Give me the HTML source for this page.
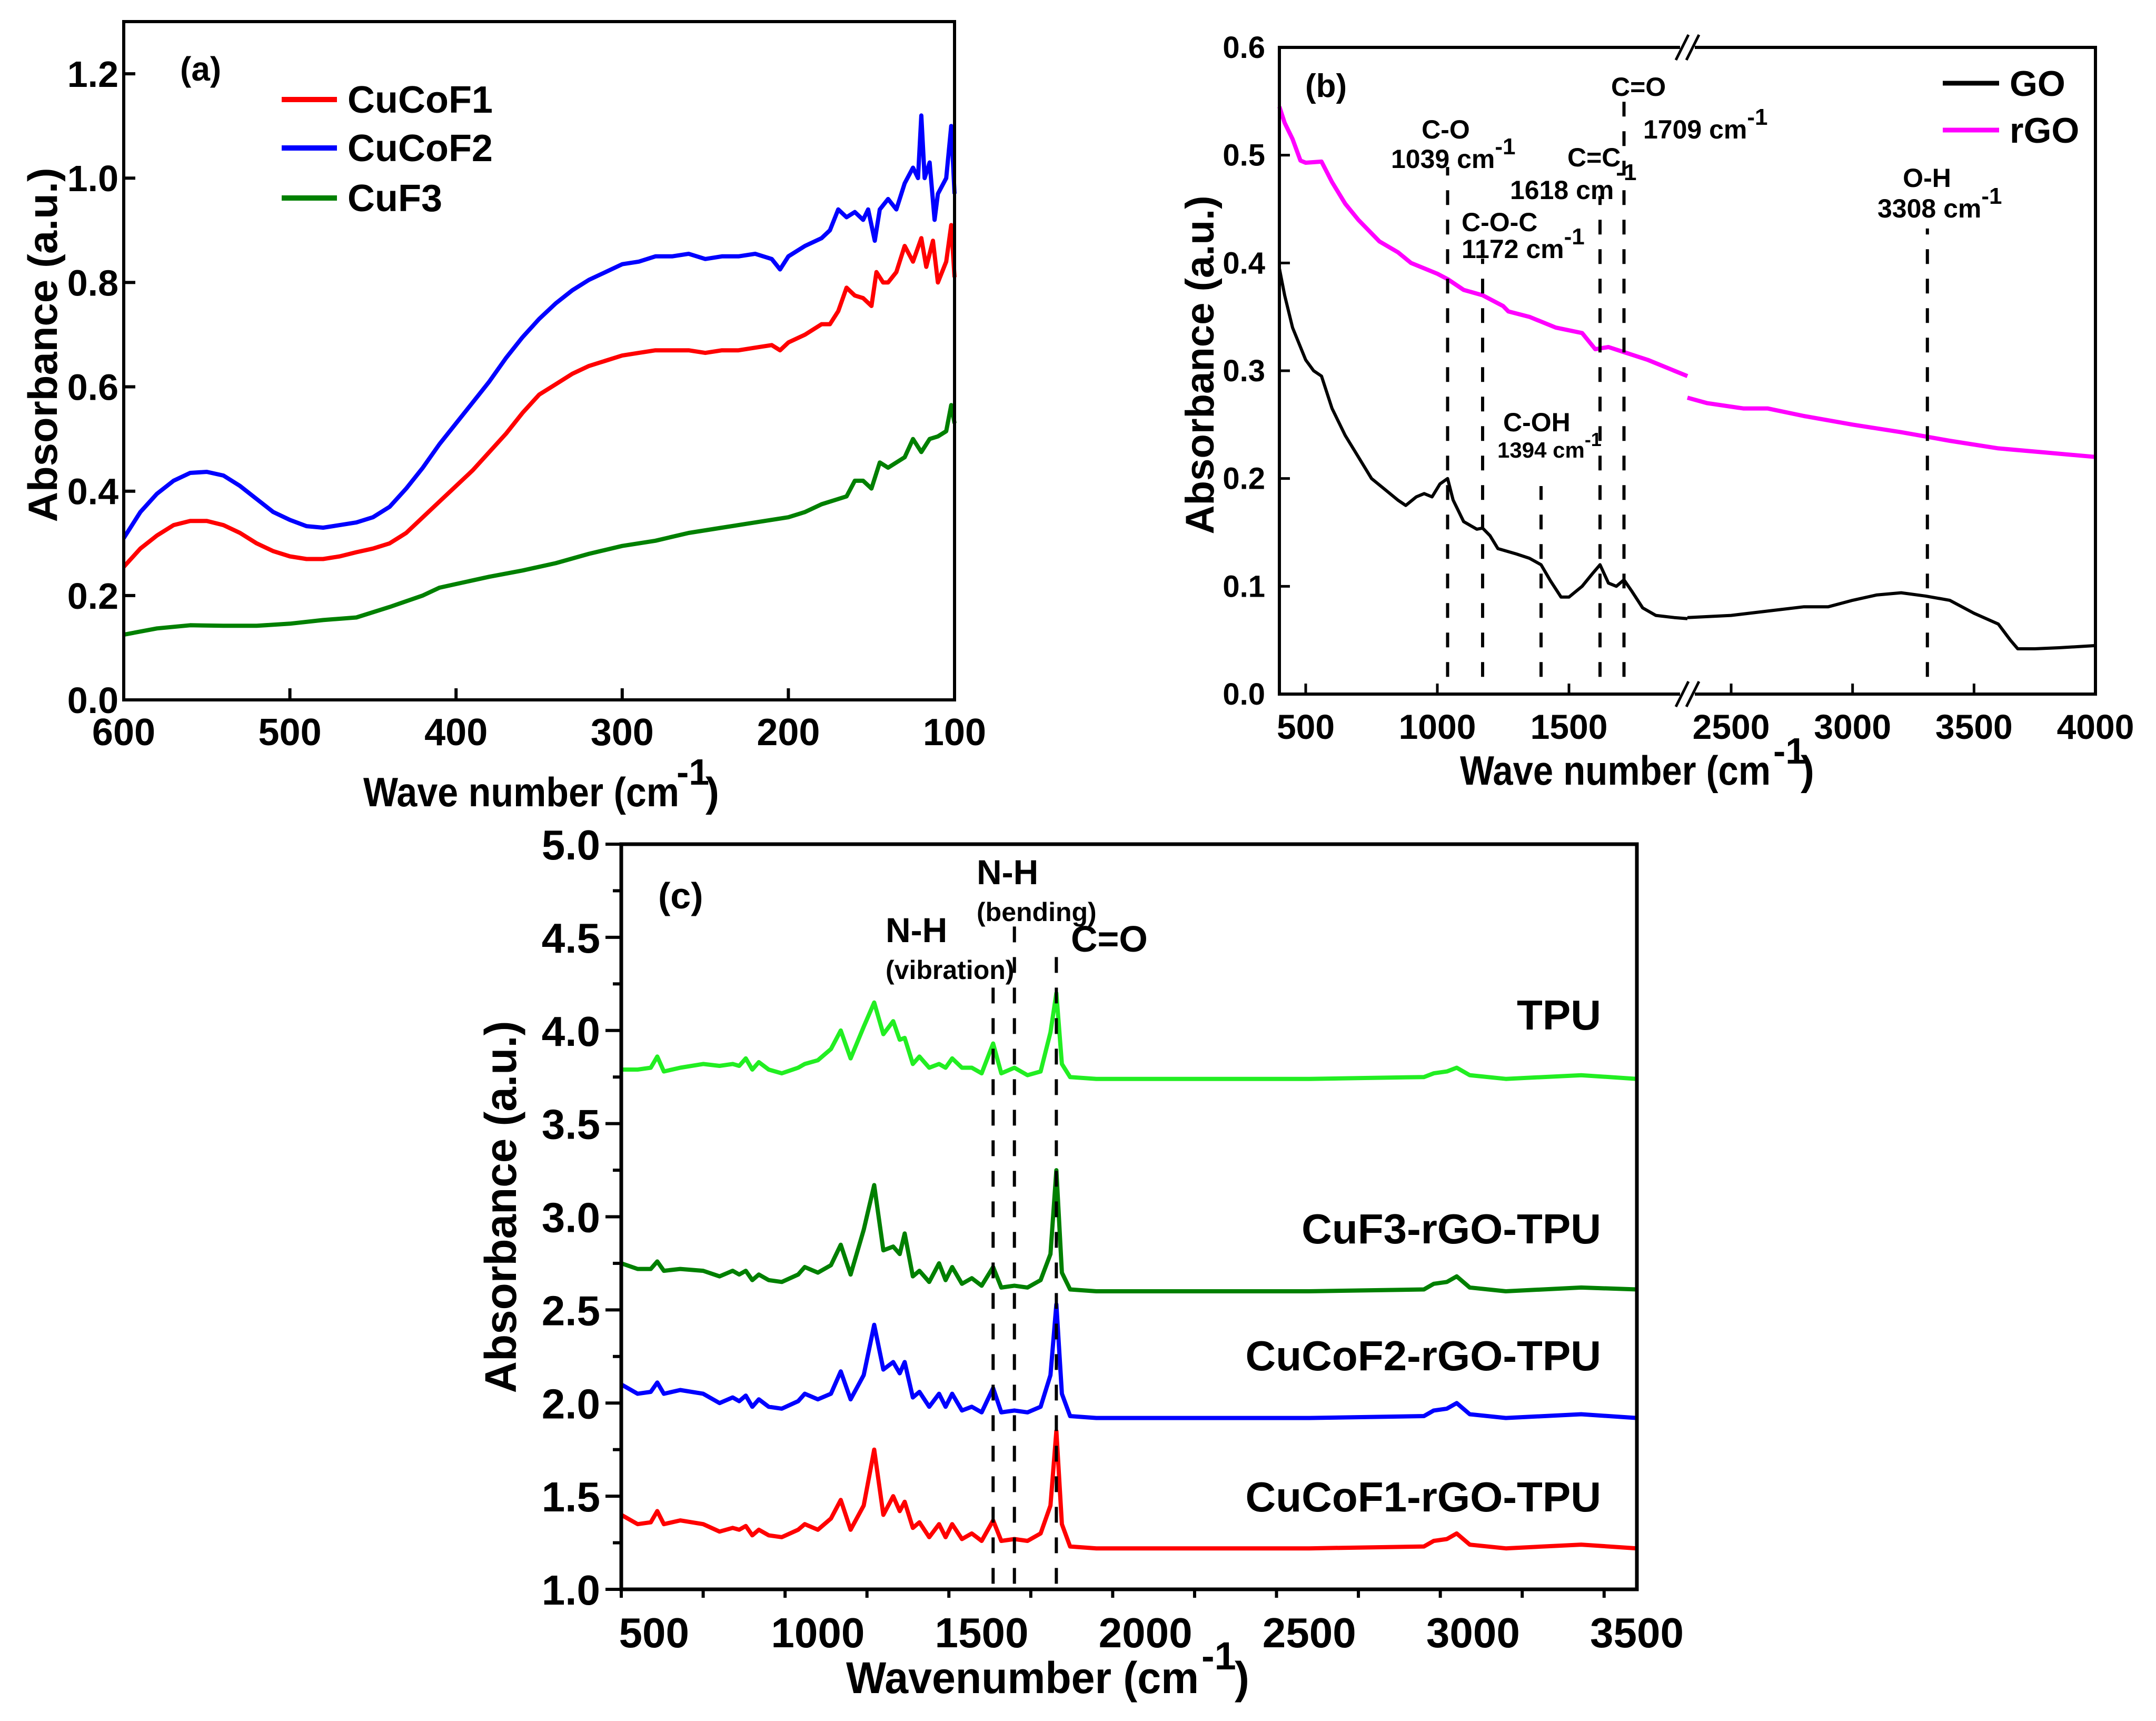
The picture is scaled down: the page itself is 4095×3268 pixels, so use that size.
<!DOCTYPE html>
<html><head><meta charset="utf-8">
<style>
html,body{margin:0;padding:0;background:#fff;}
svg{display:block;}
text{font-family:"Liberation Sans",sans-serif;font-weight:bold;fill:#000;}
</style></head>
<body>
<svg id="fig" width="4095" height="3268" viewBox="0 0 4095 3268" xmlns="http://www.w3.org/2000/svg">
<g id="pa"></g>
<g id="pb"></g>
<g id="pc"></g>
</svg>
<script>
// ---------- Panel (a) data ----------
const aX_F2=[600,590,580,570,560,550,540,530,520,510,500,490,480,470,460,450,440,430,420,410,400,390,380,370,360,350,340,330,320,310,300,290,280,270,260,250,240,230,220,210,205,200,190,180,175,170,165,160,155,152,148,145,140,135,130,125,122,120,118,115,112,110,105,102,100];
const aY_F2=[0.31,0.36,0.395,0.42,0.435,0.437,0.43,0.41,0.385,0.36,0.345,0.333,0.33,0.335,0.34,0.35,0.37,0.405,0.445,0.49,0.53,0.57,0.61,0.655,0.695,0.73,0.76,0.785,0.805,0.82,0.835,0.84,0.85,0.85,0.855,0.845,0.85,0.85,0.855,0.845,0.825,0.85,0.87,0.885,0.9,0.94,0.925,0.935,0.92,0.94,0.88,0.94,0.96,0.94,0.99,1.02,1.0,1.12,1.0,1.03,0.92,0.97,1.0,1.1,0.97];
const aX_F1=[600,590,580,570,560,550,540,530,520,510,500,490,480,470,460,450,440,430,420,410,400,390,380,370,360,350,340,330,320,310,300,290,280,270,260,250,240,230,220,210,205,200,190,180,175,170,165,160,155,150,147,143,140,135,130,125,120,117,113,110,105,102,100];
const aY_F1=[0.255,0.29,0.315,0.335,0.343,0.343,0.335,0.32,0.3,0.285,0.275,0.27,0.27,0.275,0.283,0.29,0.3,0.32,0.35,0.38,0.41,0.44,0.475,0.51,0.55,0.585,0.605,0.625,0.64,0.65,0.66,0.665,0.67,0.67,0.67,0.665,0.67,0.67,0.675,0.68,0.67,0.685,0.7,0.72,0.72,0.745,0.79,0.775,0.77,0.755,0.82,0.8,0.8,0.82,0.87,0.84,0.885,0.83,0.88,0.8,0.84,0.91,0.81];
const aX_F3=[600,580,560,540,520,500,480,460,440,420,410,400,380,360,340,320,300,280,260,240,220,200,190,180,170,165,160,155,150,145,140,130,125,120,115,110,105,102,100];
const aY_F3=[0.125,0.137,0.143,0.142,0.142,0.146,0.153,0.158,0.178,0.2,0.215,0.222,0.236,0.248,0.262,0.28,0.295,0.305,0.32,0.33,0.34,0.35,0.36,0.375,0.385,0.39,0.42,0.42,0.405,0.455,0.445,0.465,0.5,0.475,0.5,0.505,0.515,0.565,0.53];
const aXTicks=[600,500,400,300,200,100];
const aYTicks=[0,0.2,0.4,0.6,0.8,1.0,1.2];
const aYLabels=["0.0","0.2","0.4","0.6","0.8","1.0","1.2"];
const aLegend=["CuCoF1","CuCoF2","CuF3"];

// ---------- Panel (b) data ----------
const bX_GO=[400,420,450,500,530,560,600,650,700,750,800,850,880,920,950,980,1010,1039,1060,1100,1150,1172,1200,1230,1300,1350,1394,1430,1470,1500,1550,1590,1618,1650,1680,1709,1740,1780,1830,1900,1950];
const bY_GO=[0.395,0.37,0.34,0.31,0.3,0.295,0.265,0.24,0.22,0.2,0.19,0.18,0.175,0.183,0.186,0.183,0.195,0.2,0.18,0.16,0.153,0.154,0.147,0.135,0.13,0.126,0.12,0.105,0.09,0.09,0.1,0.112,0.12,0.103,0.1,0.106,0.095,0.08,0.073,0.071,0.07];
const bX_GO2=[2320,2500,2650,2800,2900,3000,3100,3200,3300,3400,3500,3600,3650,3680,3750,3850,4000];
const bY_GO2=[0.071,0.073,0.077,0.081,0.081,0.087,0.092,0.094,0.091,0.087,0.075,0.065,0.05,0.042,0.042,0.043,0.045];
const bX_rGO=[400,420,450,480,500,560,600,650,700,780,850,900,1000,1039,1100,1172,1250,1270,1350,1450,1550,1600,1650,1700,1800,1900,1950];
const bY_rGO=[0.545,0.53,0.515,0.495,0.493,0.494,0.475,0.455,0.44,0.42,0.41,0.4,0.39,0.385,0.375,0.37,0.36,0.355,0.35,0.34,0.335,0.32,0.322,0.318,0.31,0.3,0.295];
const bX_rGO2=[2320,2400,2550,2650,2800,3000,3200,3400,3600,3800,4000];
const bY_rGO2=[0.275,0.27,0.265,0.265,0.258,0.25,0.243,0.235,0.228,0.224,0.22];
const bXTicks1=[500,1000,1500];
const bXTicks2=[2500,3000,3500,4000];
const bYTicks=[0,0.1,0.2,0.3,0.4,0.5,0.6];
const bYLabels=["0.0","0.1","0.2","0.3","0.4","0.5","0.6"];
const bPeakX=[1039,1172,1394,1618,1709,3308];
const bPeakTop=[0.489,0.404,0.193,0.462,0.552,0.432];

// ---------- Panel (c) data ----------
const cX=[400,450,490,510,530,580,650,700,740,760,780,800,820,850,890,940,960,1000,1040,1070,1100,1140,1172,1200,1230,1250,1265,1290,1310,1340,1370,1390,1410,1440,1470,1500,1535,1560,1600,1640,1680,1710,1728,1745,1770,1850,2000,2500,2850,2880,2920,2950,2990,3100,3330,3500];
const cY_F1=[1.40,1.35,1.36,1.42,1.35,1.37,1.35,1.31,1.33,1.32,1.34,1.29,1.32,1.29,1.28,1.32,1.35,1.32,1.38,1.48,1.32,1.45,1.75,1.40,1.50,1.42,1.47,1.33,1.36,1.28,1.35,1.28,1.35,1.27,1.30,1.26,1.37,1.26,1.27,1.26,1.30,1.45,1.85,1.35,1.23,1.22,1.22,1.22,1.23,1.26,1.27,1.30,1.24,1.22,1.24,1.22];
const cY_F2=[2.10,2.05,2.06,2.11,2.05,2.07,2.05,2.00,2.03,2.01,2.04,1.98,2.02,1.98,1.97,2.01,2.05,2.02,2.05,2.17,2.02,2.15,2.42,2.18,2.22,2.16,2.22,2.03,2.06,1.98,2.05,1.98,2.05,1.96,1.98,1.95,2.08,1.95,1.96,1.95,1.98,2.15,2.53,2.05,1.93,1.92,1.92,1.92,1.93,1.96,1.97,2.00,1.94,1.92,1.94,1.92];
const cY_F3=[2.75,2.72,2.72,2.76,2.71,2.72,2.71,2.68,2.71,2.69,2.71,2.66,2.69,2.66,2.65,2.69,2.73,2.70,2.74,2.85,2.69,2.93,3.17,2.82,2.84,2.80,2.91,2.68,2.71,2.65,2.75,2.66,2.73,2.64,2.67,2.63,2.73,2.62,2.63,2.62,2.66,2.80,3.25,2.70,2.61,2.60,2.60,2.60,2.61,2.64,2.65,2.68,2.62,2.60,2.62,2.61];
const cY_TPU=[3.79,3.79,3.80,3.86,3.78,3.80,3.82,3.81,3.82,3.81,3.85,3.79,3.83,3.79,3.77,3.80,3.82,3.84,3.90,4.00,3.85,4.02,4.15,3.98,4.05,3.95,3.96,3.82,3.86,3.80,3.82,3.80,3.85,3.80,3.80,3.77,3.93,3.77,3.80,3.76,3.78,3.99,4.20,3.82,3.75,3.74,3.74,3.74,3.75,3.77,3.78,3.80,3.76,3.74,3.76,3.74];
const cXTicks=[500,1000,1500,2000,2500,3000,3500];
const cYTicks=[1.0,1.5,2.0,2.5,3.0,3.5,4.0,4.5,5.0];
const cYLabels=["1.0","1.5","2.0","2.5","3.0","3.5","4.0","4.5","5.0"];
const cPeakX=[1535,1600,1728];
const cPeakTop=[4.27,4.6,4.44];
const cNames=["CuCoF1-rGO-TPU","CuCoF2-rGO-TPU","CuF3-rGO-TPU","TPU"];

const NS="http://www.w3.org/2000/svg";
function mk(parent,tag,attrs,txt){const e=document.createElementNS(NS,tag);for(const k in attrs)e.setAttribute(k,attrs[k]);if(txt!==undefined)e.textContent=txt;parent.appendChild(e);return e;}
function pathD(xs,ys,fx,fy){return xs.map((x,i)=>(i?'L':'M')+fx(x).toFixed(1)+','+fy(ys[i]).toFixed(1)).join('');}

// ===== Panel A =====
(function(){
const g=document.getElementById('pa');
const L=235,R=1813,T=41,B=1329;
const fx=x=>L+(600-x)/500*(R-L);
const fy=y=>B-y/1.3*(B-T);
const cols=["#ff0000","#0000ff","#008000"];
const sx=[aX_F1,aX_F2,aX_F3], sy=[aY_F1,aY_F2,aY_F3];
for(let i=0;i<3;i++){
 const p=mk(g,'path',{d:pathD(sx[i],sy[i],fx,fy),fill:'none',stroke:cols[i],'stroke-width':8,'stroke-linejoin':'round'});
 
 
}
const fr=mk(g,'rect',{x:L,y:T,width:R-L,height:B-T,fill:'none',stroke:'#000','stroke-width':6});


aXTicks.forEach(v=>{
 const l=mk(g,'line',{x1:fx(v),x2:fx(v),y1:B,y2:B-22,stroke:'#000','stroke-width':6});
 
 
 const t=mk(g,'text',{x:fx(v),y:1415,'font-size':72,'text-anchor':'middle'},String(v));
 
 
});
aYTicks.forEach((v,i)=>{
 const l=mk(g,'line',{x1:L,x2:L+22,y1:fy(v),y2:fy(v),stroke:'#000','stroke-width':6});
 
 
 const t=mk(g,'text',{x:225,y:fy(v)+25,'font-size':70,'text-anchor':'end'},aYLabels[i]);
 
 
});
const ly=[189,281,376];
aLegend.forEach((n,i)=>{
 const l=mk(g,'line',{x1:535,x2:640,y1:ly[i],y2:ly[i],stroke:cols[i],'stroke-width':10});
 
 
 const t=mk(g,'text',{x:660,y:ly[i]+25,'font-size':72},n);
 
 
});
})();

// ===== Panel B =====
(function(){
const g=document.getElementById('pb');
const L=2430,R=3980,T=90,B=1318,BRK=3205;
const fx=x=> x<=2000 ? L+(x-400)*0.5 : BRK+(x-2320)/(4000-2320)*(R-BRK);
const fy=y=>B-y/0.6*(B-T);
const series=[[bX_rGO,bY_rGO,'#ff00ff','rgo-left'],[bX_rGO2,bY_rGO2,'#ff00ff','rgo-right'],[bX_GO,bY_GO,'#000','go-left'],[bX_GO2,bY_GO2,'#000','go-right']];
series.forEach(s=>{
 const p=mk(g,'path',{d:pathD(s[0],s[1],fx,fy),fill:'none',stroke:s[2],'stroke-width':s[2]=='#000'?6:8,'stroke-linejoin':'round'});
 
 
});
bPeakX.forEach((v,i)=>{
 const l=mk(g,'line',{x1:fx(v),x2:fx(v),y1:fy(0.016),y2:fy(bPeakTop[i]),stroke:'#000','stroke-width':6,'stroke-dasharray':'28,28'});
 
 
});
// frame with break
const fr=mk(g,'path',{d:`M${BRK-14},${T}H${L}V${B}H${BRK-14}M${BRK+14},${B}H${R}V${T}H${BRK+14}`,fill:'none',stroke:'#000','stroke-width':6});


[T,B].forEach(yy=>{
 [-10,10].forEach(o=>{
  const l=mk(g,'line',{x1:BRK+o-12,y1:yy+24,x2:BRK+o+12,y2:yy-24,stroke:'#000','stroke-width':5});
  
  
 });
});
bXTicks1.concat(bXTicks2).forEach(v=>{
 const l=mk(g,'line',{x1:fx(v),x2:fx(v),y1:B,y2:B-20,stroke:'#000','stroke-width':5});
 
 
 const t=mk(g,'text',{x:fx(v),y:1403,'font-size':66,'text-anchor':'middle'},String(v));
 
 
});
bYTicks.forEach((v,i)=>{
 const l=mk(g,'line',{x1:L,x2:L+20,y1:fy(v),y2:fy(v),stroke:'#000','stroke-width':5});
 
 
 const t=mk(g,'text',{x:2403,y:fy(v)+20,'font-size':58,'text-anchor':'end'},bYLabels[i]);
 
 
});
})();

// ===== Panel C =====
(function(){
const g=document.getElementById('pc');
const L=1180,R=3109,T=1603,B=3018;
const fx=x=>L+(x-400)/3100*(R-L);
const fy=y=>B-(y-1)/4*(B-T);
const cols=["#ff0000","#0000ff","#008000","#22ee22"];
const ys=[cY_F1,cY_F2,cY_F3,cY_TPU];
for(let i=0;i<4;i++){
 const p=mk(g,'path',{d:pathD(cX,ys[i],fx,fy),fill:'none',stroke:cols[i],'stroke-width':8,'stroke-linejoin':'round'});
 
 
}
cPeakX.forEach((v,i)=>{
 const l=mk(g,'line',{x1:fx(v),x2:fx(v),y1:fy(1.03),y2:fy(cPeakTop[i]),stroke:'#000','stroke-width':6,'stroke-dasharray':'30,28'});
 
 
});
const fr=mk(g,'rect',{x:L,y:T,width:R-L,height:B-T,fill:'none',stroke:'#000','stroke-width':7});


for(let v=400;v<=3500;v+=250){
 if(v<400)continue;
 const major=(v%500===0);
 const l=mk(g,'line',{x1:fx(v),x2:fx(v),y1:B,y2:B+(major?30:16),stroke:'#000','stroke-width':6});
 
 
}
cXTicks.forEach(v=>{
 const t=mk(g,'text',{x:fx(v),y:3128,'font-size':80,'text-anchor':'middle'},String(v));
 
 
});
for(let v=1;v<=5.001;v+=0.25){
 const major=Math.abs(v*2-Math.round(v*2))<1e-6;
 const l=mk(g,'line',{x1:L,x2:L-(major?30:16),y1:fy(v),y2:fy(v),stroke:'#000','stroke-width':6});
 
 
}
cYTicks.forEach((v,i)=>{
 const t=mk(g,'text',{x:1140,y:fy(v)+29,'font-size':80,'text-anchor':'end'},cYLabels[i]);
 
 
});
const ny=[2870,2602,2361,1955];
cNames.forEach((n,i)=>{
 const t=mk(g,'text',{x:3041,y:ny[i],'font-size':80,'text-anchor':'end'},n);
 
 
});
})();
</script>
<!-- static titles & annotations -->
<svg width="0" height="0" style="position:absolute"></svg>
<script>
(function(){
const s=document.getElementById('fig');
s.insertAdjacentHTML('beforeend',`
<text x="342" y="153" font-size="64">(a)</text>
<text transform="translate(108,655) rotate(-90)" font-size="78" text-anchor="middle" textLength="673" lengthAdjust="spacingAndGlyphs">Absorbance (a.u.)</text>
<text x="690" y="1531" font-size="78" textLength="600" lengthAdjust="spacingAndGlyphs">Wave number (cm</text>
<text x="1285" y="1490" font-size="70">-1</text>
<text x="1340" y="1531" font-size="78">)</text>

<text x="2479" y="184" font-size="62">(b)</text>
<line x1="3690" x2="3797" y1="158" y2="158" stroke="#000" stroke-width="9"/>
<text x="3817" y="182" font-size="68">GO</text>
<line x1="3690" x2="3797" y1="247" y2="247" stroke="#ff00ff" stroke-width="9"/>
<text x="3817" y="271" font-size="68">rGO</text>
<text transform="translate(2305,693) rotate(-90)" font-size="76" text-anchor="middle" textLength="643" lengthAdjust="spacingAndGlyphs">Absorbance (a.u.)</text>
<text x="2773" y="1490" font-size="78" textLength="590" lengthAdjust="spacingAndGlyphs">Wave number (cm</text>
<text x="3368" y="1450" font-size="70">-1</text>
<text x="3420" y="1490" font-size="78">)</text>
<g font-size="50">
<text x="2746" y="263" text-anchor="middle">C-O</text>
<text x="2642" y="319">1039 cm<tspan dy="-26" font-size="44">-1</tspan></text>
<text x="3060" y="182">C=O</text>
<text x="3121" y="263">1709 cm<tspan dy="-26" font-size="44">-1</tspan></text>
<text x="2977" y="316">C=C</text>
<text x="2868" y="378">1618 cm<tspan dx="4" dy="-36" font-size="44">-1</tspan></text>
<text x="2776" y="439">C-O-C</text>
<text x="2776" y="490">1172 cm<tspan dy="-26" font-size="44">-1</tspan></text>
<text x="2855" y="819">C-OH</text>
<text x="2844" y="869" font-size="42">1394 cm<tspan dy="-22" font-size="36">-1</tspan></text>
<text x="3660" y="355" text-anchor="middle">O-H</text>
<text x="3566" y="413">3308 cm<tspan dy="-26" font-size="44">-1</tspan></text>
</g>

<text x="1250" y="1725" font-size="70">(c)</text>
<text x="1682" y="1789" font-size="66">N-H</text>
<text x="1682" y="1859" font-size="50" font-weight="normal">(vibration)</text>
<text x="1855" y="1679" font-size="66">N-H</text>
<text x="1855" y="1749" font-size="50" font-weight="normal">(bending)</text>
<text x="2034" y="1807" font-size="70">C=O</text>
<text transform="translate(980,2292) rotate(-90)" font-size="84" text-anchor="middle" textLength="707" lengthAdjust="spacingAndGlyphs">Absorbance (a.u.)</text>
<text x="1607" y="3215" font-size="84" textLength="670" lengthAdjust="spacingAndGlyphs">Wavenumber (cm</text>
<text x="2282" y="3170" font-size="74">-1</text>
<text x="2345" y="3215" font-size="84">)</text>
`);
})();
</script>
</body></html>
